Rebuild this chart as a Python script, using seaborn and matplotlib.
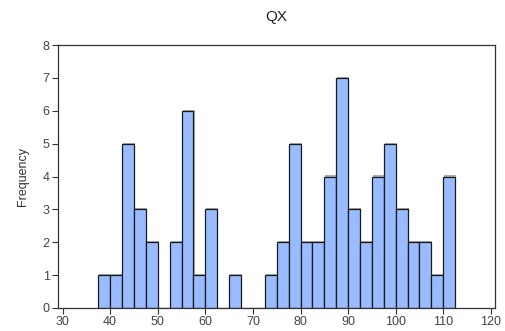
import numpy as np
import pandas as pd
import matplotlib
matplotlib.use("Agg")
import matplotlib.pyplot as plt
import matplotlib.patheffects as pe
import seaborn as sns

# Histogram of QX: bins of width 2.5 starting at 37.5
bin_left = [37.5, 40.0, 42.5, 45.0, 47.5, 50.0, 52.5, 55.0, 57.5, 60.0,
            62.5, 65.0, 67.5, 70.0, 72.5, 75.0, 77.5, 80.0, 82.5, 85.0,
            87.5, 90.0, 92.5, 95.0, 97.5, 100.0, 102.5, 105.0, 107.5, 110.0]
counts = [1, 1, 5, 3, 2, 0, 2, 6, 1, 3,
          0, 1, 0, 0, 1, 2, 5, 2, 2, 4,
          7, 3, 2, 4, 5, 3, 2, 2, 1, 4]
bin_width = 2.5
x_ticks = [30, 40, 50, 60, 70, 80, 90, 100, 110, 120]
y_ticks = [0, 1, 2, 3, 4, 5, 6, 7, 8]

df = pd.DataFrame({"QX": np.array(bin_left) + bin_width / 2, "count": counts})
edges = list(bin_left) + [bin_left[-1] + bin_width]

sns.set_style("white")
plt.rcParams["font.family"] = ["Liberation Sans", "DejaVu Sans"]

fig = plt.figure(figsize=(5.05, 3.31), dpi=100)
ax = fig.add_axes([0.1149, 0.0695, 0.8656, 0.7945])

sns.histplot(data=df, x="QX", weights="count", bins=edges, ax=ax,
             color="#99bbff", alpha=1.0, edgecolor="#1a1a1a", linewidth=0.9)
for p in ax.patches:
    p.set_path_effects([pe.SimplePatchShadow(offset=(0.8, 0.8), shadow_rgbFace="#888888", alpha=0.7),
                        pe.Normal()])

ax.set_xlim(29.05, 120.9)
ax.set_ylim(0, 8)
ax.set_xticks(x_ticks)
ax.set_yticks(y_ticks)
ax.set_xlabel("")
ax.set_ylabel("Frequency", fontsize=9, color="#333333", labelpad=10)
ax.set_title("QX", fontsize=11, color="#222222", pad=17.5)

for s in ax.spines.values():
    s.set_color("#333333")
    s.set_linewidth(0.9)
ax.tick_params(axis="both", which="major", length=4, width=0.8, color="#333333",
               labelsize=9, labelcolor="#444444", pad=2, direction="out",
               bottom=True, left=True)

fig.savefig("out.png", dpi=100)
